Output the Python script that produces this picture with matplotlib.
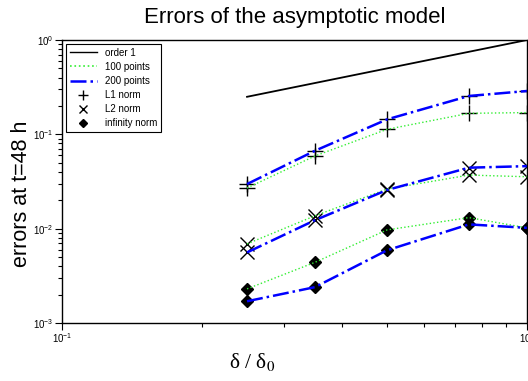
import numpy as np
import matplotlib
matplotlib.use("Agg")
import matplotlib.pyplot as plt
from matplotlib.lines import Line2D
from matplotlib.ticker import LogLocator, NullFormatter

plt.rcParams['font.family'] = ['Liberation Sans', 'DejaVu Sans']
plt.rcParams['mathtext.fontset'] = 'custom'
plt.rcParams['mathtext.rm'] = 'Liberation Sans'
plt.rcParams['mathtext.it'] = 'Liberation Sans'

# ratio delta/delta0
ratio = [0.25, 0.35, 0.5, 0.75, 1.0]
order1_x = [0.25, 1.0]
order1_y = [0.25, 1.0]

# L1 norm
l1_100 = [0.027, 0.059, 0.113, 0.167, 0.17]
l1_200 = [0.0297, 0.067, 0.144, 0.255, 0.288]
# L2 norm
l2_100 = [0.0069, 0.0137, 0.0263, 0.037, 0.0355]
l2_200 = [0.0056, 0.0123, 0.0257, 0.0443, 0.046]
# infinity norm
inf_100 = [0.0023, 0.0044, 0.0097, 0.0131, 0.0102]
inf_200 = [0.0017, 0.0024, 0.0059, 0.0111, 0.0102]

green = '#33ee33'
blue = '#0000ff'

fig = plt.figure(figsize=(5.28, 3.81), dpi=100)
ax = fig.add_axes([62/528, 1-323/381, 465/528, 283/381])

ax.plot(order1_x, order1_y, color='black', lw=1.3)

for a, b, m, ms in [(l1_100, l1_200, '+', 11), (l2_100, l2_200, 'x', 10.5),
                    (inf_100, inf_200, 'D', 6.5)]:
    ax.plot(ratio, a, ls='none', marker=m, ms=ms, color='black', mew=1.0)
    ax.plot(ratio, b, ls='none', marker=m, ms=ms, color='black', mew=1.0)
    ax.plot(ratio, a, ls=':', color=green, lw=1.0)
    ax.plot(ratio, b, ls='-.', color=blue, lw=1.8)

ax.set_xscale('log')
ax.set_yscale('log')
ax.set_xlim(0.1, 1)
ax.set_ylim(1e-3, 1)

ax.xaxis.set_minor_locator(LogLocator(base=10, subs=np.arange(2, 10), numticks=10))
ax.yaxis.set_minor_locator(LogLocator(base=10, subs=np.arange(2, 10), numticks=10))
ax.xaxis.set_minor_formatter(NullFormatter())
ax.yaxis.set_minor_formatter(NullFormatter())
ax.set_xticks([0.1, 1])
ax.set_xticklabels([r'$10^{-1}$', r'$10^{0}$'])
ax.set_yticks([1e-3, 1e-2, 1e-1, 1])
ax.set_yticklabels([r'$10^{-3}$', r'$10^{-2}$', r'$10^{-1}$', r'$10^{0}$'])
ax.tick_params(which='major', direction='out', length=5, width=0.8, labelsize=7, pad=1)
ax.tick_params(which='minor', direction='out', length=3, width=0.8)
for s in ax.spines.values():
    s.set_linewidth(1.0)

ax.set_title('Errors of the asymptotic model', fontsize=16, pad=12.5)
ax.set_ylabel('errors at t=48 h', fontsize=15.5)
ax.yaxis.set_label_coords(-0.064, 0.458)
fig.text(252/528, 1-362/381, 'δ / δ$_0$', fontsize=15.5,
         family='Liberation Serif', math_fontfamily='stix', ha='center', va='center')

handles = [
    Line2D([], [], color='black', lw=1.0),
    Line2D([], [], color=green, ls=':', lw=1.2),
    Line2D([], [], color=blue, ls='-.', lw=1.8),
    Line2D([], [], color='black', ls='none', marker='+', ms=7),
    Line2D([], [], color='black', ls='none', marker='x', ms=6),
    Line2D([], [], color='black', ls='none', marker='D', ms=4),
]
labels = ['order 1', '100 points', '200 points', 'L1 norm', 'L2 norm', 'infinity norm']
leg = ax.legend(handles, labels, loc='upper left', fontsize=7, frameon=True,
                fancybox=False, framealpha=1, edgecolor='black',
                handlelength=2.8, borderaxespad=0.4, labelspacing=0.42)
leg.get_frame().set_linewidth(0.8)

fig.savefig('out.png', dpi=100)
